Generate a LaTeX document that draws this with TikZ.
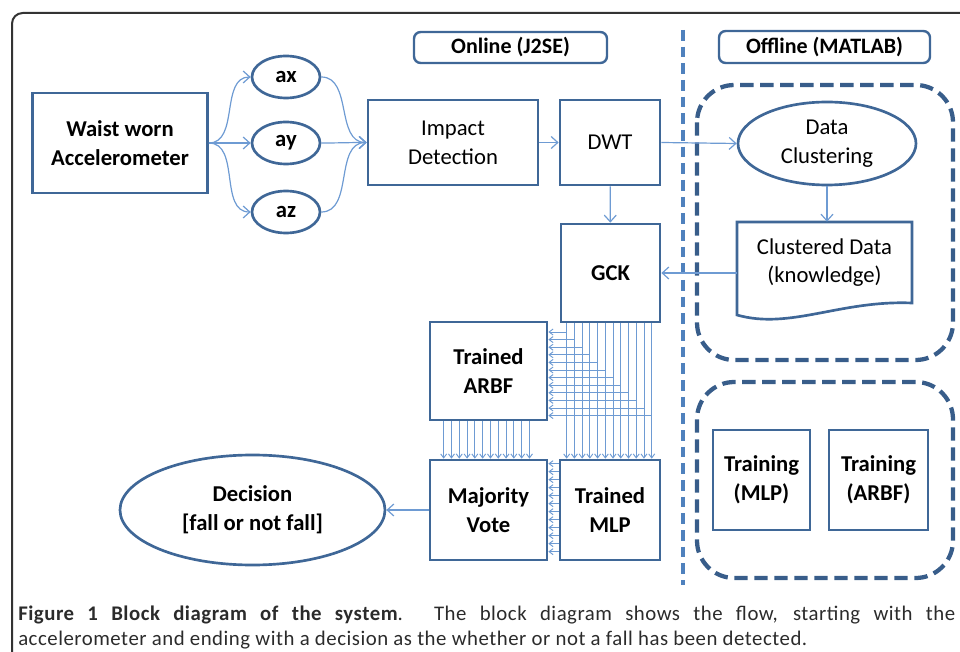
\documentclass[tikz,border=0pt]{standalone}
\usepackage{fontspec}
\setmainfont{Carlito}
\newfontfamily\capfont[LetterSpace=2.5]{Carlito}
\usetikzlibrary{arrows.meta,shapes.geometric,calc}
\definecolor{boxc}{HTML}{3F6797}
\definecolor{arrc}{HTML}{6E9BD3}
\definecolor{dashc}{HTML}{4F81BD}
\definecolor{dboxc}{HTML}{385D8A}
\definecolor{framec}{HTML}{333333}
\definecolor{capc}{HTML}{2B2B2B}
\newcommand\lblfont{\fontsize{17}{21.5}\selectfont}
\begin{document}
\begin{tikzpicture}[x=0.75pt,y=-0.75pt,
  blk/.style={draw=boxc, line width=2pt, fill=white, inner sep=2pt, align=center, font=\lblfont},
  ell/.style={ellipse, draw=boxc, line width=2pt, fill=white, inner sep=0pt, align=center, font=\lblfont},
  tag/.style={draw=boxc, line width=1.8pt, rounded corners=5pt, inner sep=0pt, font=\fontsize{16.5}{20}\selectfont\bfseries},
  conn/.style={draw=arrc, line width=0.9pt, -{Straight Barb[length=5pt,width=9pt]}},
  bund/.style={draw=arrc, line width=0.7pt, -{Straight Barb[length=3pt,width=4.5pt]}},
  dbox/.style={draw=dboxc, line width=3.2pt, dash pattern=on 10pt off 5pt, rounded corners=28pt}]
\useasboundingbox (0,0) rectangle (960,652);
% outer frame
\draw[framec, line width=1.5pt, rounded corners=8pt] (960,13) -- (12,13) -- (12,652);

% section tags
\node[tag, minimum width=144.75pt, minimum height=23.25pt] (online) at (510.5,47.5) {Online (J2SE)};
\node[tag, minimum width=158.25pt, minimum height=24pt] (offline) at (824.5,47) {Offline (MATLAB)};

% separator and dashed groups
\draw[dashc, line width=2.8pt, dash pattern=on 8pt off 4.5pt] (683,30) -- (683,585);
\draw[dbox] (697,85) rectangle (953,360);
\draw[dbox] (697,382) rectangle (953,578);

% nodes
\node[blk, font=\lblfont\bfseries, minimum width=131.25pt, minimum height=75pt] (acc) at (120,143) {Waist worn\\Accelerometer};
\node[ell, font=\lblfont\bfseries, minimum width=51pt, minimum height=31.5pt] (ax) at (286,77) {ax};
\node[ell, font=\lblfont\bfseries, minimum width=51pt, minimum height=31.5pt] (ay) at (286,143) {ay};
\node[ell, font=\lblfont\bfseries, minimum width=51pt, minimum height=31.5pt] (az) at (286,212) {az};
\node[blk, minimum width=127.5pt, minimum height=63.75pt] (imp) at (453,142.5) {Impact\\Detection};
\node[blk, minimum width=75pt, minimum height=63.75pt] (dwt) at (610,142.5) {DWT};
\node[ell, minimum width=133.5pt, minimum height=62.25pt] (dc) at (827,143.5) {Data\\Clustering};
\node[blk, font=\lblfont\bfseries, minimum width=74.25pt, minimum height=73.5pt] (gck) at (610.5,273) {GCK};
\node[blk, font=\lblfont\bfseries, minimum width=87.75pt, minimum height=73.5pt] (arbf) at (488.5,371) {Trained\\ARBF};
\node[blk, font=\lblfont\bfseries, minimum width=87.75pt, minimum height=75pt] (mv) at (488.5,510) {Majority\\Vote};
\node[blk, font=\lblfont\bfseries, minimum width=75pt, minimum height=75pt] (mlp) at (610,510) {Trained\\MLP};
\node[ell, font=\lblfont\bfseries, minimum width=198.75pt, minimum height=82.5pt] (dec) at (252.5,510) {Decision\\{[fall or not fall]}};
\node[blk, font=\lblfont\bfseries, minimum width=72.75pt, minimum height=75pt] (tmlp) at (761.5,480) {Training\\(MLP)};
\node[blk, font=\lblfont\bfseries, minimum width=74.25pt, minimum height=75pt] (tarbf) at (878.5,480) {Training\\(ARBF)};

% clustered data document shape
\draw[boxc, line width=2pt, fill=white] (737,222) -- (912,222) -- (912,303)
  .. controls (840,300) and (790,330) .. (737,315) -- cycle;
\node[font=\lblfont, align=center, minimum width=131.25pt, minimum height=60.75pt, inner sep=0pt] (cd) at (824.5,262.5) {Clustered Data\\(knowledge)};

% connectors
\foreach \e in {ax,ay,az}{
  \draw[conn] (acc.east) to[out=0,in=180] (\e.west);
  \draw[conn] (\e.east) to[out=0,in=180] (imp.west);
}
\draw[conn] (imp) -- (dwt);
\draw[conn] (dwt.east) -- (dc.west);
\draw[conn] (dwt) -- (gck);
\draw[conn] (dc.south) -- (dc.south |- cd.north);
\draw[conn] (cd.west |- gck.east) -- (gck.east);
\draw[conn] (mv.west) -- (dec.east);

% bundles
\foreach \k in {0,...,11}{
  \pgfmathsetmacro\yb{332+7.6*\k}
  \coordinate (t\k) at ($(gck.south west)+({7+7.73*\k},0)$);
  \draw[bund] (t\k) -- (t\k |- mlp.north);
  \draw[bund] (t\k |- 0,\yb) -- (arbf.east |- 0,\yb);
  \coordinate (a\k) at ($(arbf.south west)+({15+7.8*\k},0)$);
  \draw[bund] (a\k) -- (a\k |- mv.north);
  \coordinate (m\k) at ($(mlp.north west)+(0,{5+8*\k})$);
  \draw[bund] (m\k) -- (m\k -| mv.east);
}

% caption
\node[anchor=base west, text=capc, inner sep=0pt, font=\capfont\fontsize{15.6}{18}\selectfont] (cap1) at (18,620)
  {\makebox[702.75pt][s]{\textbf{Figure 1 Block diagram of the system}. The block diagram shows the flow, starting with the}};
\node[anchor=base west, text=capc, inner sep=0pt, font=\capfont\fontsize{15.6}{18}\selectfont] (cap2) at (18,645)
  {accelerometer and ending with a decision as the whether or not a fall has been detected.};
\end{tikzpicture}
\end{document}
